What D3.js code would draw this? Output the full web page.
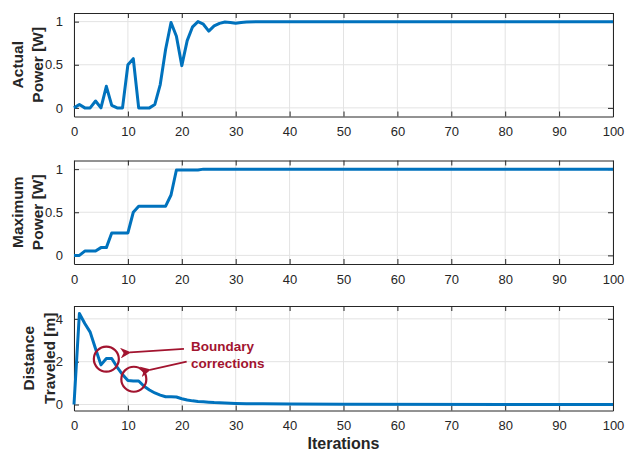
<!DOCTYPE html>
<html>
<head>
<meta charset="utf-8">
<script src="https://cdn.jsdelivr.net/npm/d3@7"></script>
<style>
  body { margin: 0; background: #fff; }
  svg text { font-family: "Liberation Sans", Arial, Helvetica, sans-serif; }
</style>
</head>
<body>
<div id="chart"></div>
<script>
// values
var xTicks = [0, 10, 20, 30, 40, 50, 60, 70, 80, 90, 100];

var actualIter = [0, 1, 2, 3, 4, 5, 6, 7, 8, 9, 10, 11, 12, 13, 14, 15, 16, 17, 18, 19, 20,
                  21, 22, 23, 24, 25, 26, 27, 28, 29, 30, 31, 32, 35, 100];
var actualPower = [0, 0.04, 0, 0, 0.08, 0, 0.25, 0.03, 0, 0, 0.5, 0.57, 0, 0, 0, 0.04, 0.27, 0.68, 0.99, 0.83, 0.49,
                   0.78, 0.94, 1.0, 0.97, 0.89, 0.95, 0.98, 0.995, 0.99, 0.98, 0.99, 0.995, 1.0, 1.0];

var maxIter = [0, 1, 2, 3, 4, 5, 6, 7, 8, 9, 10, 11, 12, 13, 14, 15, 16, 17, 18, 19, 20, 23, 24, 100];
var maxPower = [0, 0, 0.05, 0.05, 0.05, 0.09, 0.09, 0.26, 0.26, 0.26, 0.26, 0.5, 0.57, 0.57, 0.57, 0.57, 0.57, 0.57, 0.7, 0.99, 0.99, 0.99, 1.0, 1.0];

var distIter = [0, 1, 2, 3, 4, 5, 6, 7, 8, 9, 10, 11, 12, 13, 14, 15, 16, 17, 18, 19, 20,
                21, 22, 23, 24, 25, 26, 27, 28, 29, 30, 32, 35, 40, 50, 100];
var distance = [0, 4.25, 3.78, 3.38, 2.6, 1.85, 2.15, 2.15, 1.75, 1.4, 1.12, 1.1, 1.1, 0.85, 0.68, 0.54, 0.44, 0.36, 0.36, 0.35, 0.27,
                0.21, 0.17, 0.14, 0.13, 0.11, 0.09, 0.08, 0.07, 0.06, 0.05, 0.04, 0.03, 0.02, 0.01, 0];

var panels = [
  { iter: actualIter, vals: actualPower, label: ["Actual", "Power [W]"], yDomain: [-0.1, 1.1], yTicks: [0, 0.5, 1],
    top: 13, bottom: 116.5, labelX: [17, 37] },
  { iter: maxIter, vals: maxPower, label: ["Maximum", "Power [W]"], yDomain: [-0.1, 1.1], yTicks: [0, 0.5, 1],
    top: 160.5, bottom: 264, labelX: [17, 37] },
  { iter: distIter, vals: distance, label: ["Distance", "Traveled [m]"], yDomain: [-0.28, 4.6], yTicks: [0, 2, 4],
    top: 306, bottom: 410.5, labelX: [28, 49] }
];

var W = 626, H = 452;
var left = 74, right = 613;
var axisColor = "#262626", gridColor = "#e3e3e3", lineColor = "#0072BD", noteColor = "#A2142F";
var tickLen = 5;

var svg = d3.select("#chart").append("svg")
    .attr("width", W)
    .attr("height", H);

var x = d3.scaleLinear().domain([0, 100]).range([left, right]);

var lastY;
panels.forEach(function(p, pi) {
  var y = d3.scaleLinear().domain(p.yDomain).range([p.bottom, p.top]);
  var g = svg.append("g");

  // grid
  g.append("g").selectAll("line").data(xTicks).enter().append("line")
      .attr("x1", function(d) { return x(d); })
      .attr("x2", function(d) { return x(d); })
      .attr("y1", p.top).attr("y2", p.bottom)
      .attr("stroke", gridColor).attr("stroke-width", 1);
  g.append("g").selectAll("line").data(p.yTicks).enter().append("line")
      .attr("x1", left).attr("x2", right)
      .attr("y1", function(d) { return y(d); })
      .attr("y2", function(d) { return y(d); })
      .attr("stroke", gridColor).attr("stroke-width", 1);

  // axes, ticks pointing inward on all four sides
  var bottomAxis = g.append("g")
      .attr("transform", "translate(0," + p.bottom + ")")
      .call(d3.axisBottom(x).tickValues(xTicks).tickSize(-tickLen).tickPadding(10 + tickLen).tickSizeOuter(0));
  var topAxis = g.append("g")
      .attr("transform", "translate(0," + p.top + ")")
      .call(d3.axisTop(x).tickValues(xTicks).tickSize(-tickLen).tickFormat("").tickSizeOuter(0));
  var leftAxis = g.append("g")
      .attr("transform", "translate(" + left + ",0)")
      .call(d3.axisLeft(y).tickValues(p.yTicks).tickSize(-tickLen).tickPadding(6 + tickLen).tickSizeOuter(0)
        .tickFormat(function(d) { return d; }));
  var rightAxis = g.append("g")
      .attr("transform", "translate(" + right + ",0)")
      .call(d3.axisRight(y).tickValues(p.yTicks).tickSize(-tickLen).tickFormat("").tickSizeOuter(0));

  [bottomAxis, topAxis, leftAxis, rightAxis].forEach(function(a) {
    a.select(".domain").attr("stroke", axisColor);
    a.selectAll(".tick line").attr("stroke", axisColor);
    a.selectAll(".tick text")
      .attr("fill", axisColor)
      .style("font-size", "13px")
      .style("font-family", '"Liberation Sans", Arial, sans-serif');
  });
  bottomAxis.selectAll(".tick text").attr("dy", "0.35em").attr("y", 15);

  // the line
  var line = d3.line()
      .x(function(d, i) { return x(p.iter[i]); })
      .y(function(d) { return y(d); });
  g.append("path")
      .datum(p.vals)
      .attr("fill", "none")
      .attr("stroke", lineColor)
      .attr("stroke-width", 3)
      .attr("stroke-linejoin", "round")
      .attr("d", line);

  // y label, two lines
  var cy = (p.top + p.bottom) / 2;
  p.label.forEach(function(t, li) {
    svg.append("text")
      .attr("transform", "translate(" + p.labelX[li] + "," + cy + ") rotate(-90)")
      .attr("text-anchor", "middle")
      .attr("dy", "0.36em")
      .attr("fill", axisColor)
      .style("font-size", "15.5px")
      .style("font-weight", "bold")
      .text(t);
  });

  lastY = y;
});

// x label
svg.append("text")
  .attr("x", (left + right) / 2)
  .attr("y", 443)
  .attr("dy", "0.36em")
  .attr("text-anchor", "middle")
  .attr("fill", axisColor)
  .style("font-size", "16px")
  .style("font-weight", "bold")
  .text("Iterations");

// annotation on the distance panel
var circles = [[6, 2.12], [11.1, 1.18]];
var arrows = [[[20.4, 2.6], [10.4, 2.43]], [[20.9, 2.0], [14.1, 1.62]]];

svg.append("defs").append("marker")
    .attr("id", "arrowhead")
    .attr("viewBox", "0 0 10 10")
    .attr("refX", 1).attr("refY", 5)
    .attr("markerWidth", 6).attr("markerHeight", 6)
    .attr("orient", "auto-start-reverse")
  .append("path")
    .attr("d", "M10,0 L0,5 L10,10 L7,5 Z")
    .attr("fill", noteColor);

svg.selectAll("circle.note").data(circles).enter().append("circle")
    .attr("class", "note")
    .attr("cx", function(d) { return x(d[0]); })
    .attr("cy", function(d) { return lastY(d[1]); })
    .attr("r", 12.5)
    .attr("fill", "none")
    .attr("stroke", noteColor)
    .attr("stroke-width", 2.2);

svg.selectAll("line.note").data(arrows).enter().append("line")
    .attr("class", "note")
    .attr("x1", function(d) { return x(d[0][0]); })
    .attr("y1", function(d) { return lastY(d[0][1]); })
    .attr("x2", function(d) { return x(d[1][0]); })
    .attr("y2", function(d) { return lastY(d[1][1]); })
    .attr("stroke", noteColor)
    .attr("stroke-width", 1.8)
    .attr("marker-end", "url(#arrowhead)");

["Boundary", "corrections"].forEach(function(t, i) {
  svg.append("text")
    .attr("x", 191)
    .attr("y", 346 + i * 17)
    .attr("dy", "0.36em")
    .attr("fill", noteColor)
    .style("font-size", "13.5px")
    .style("font-weight", "bold")
    .text(t);
});
</script>
</body>
</html>
